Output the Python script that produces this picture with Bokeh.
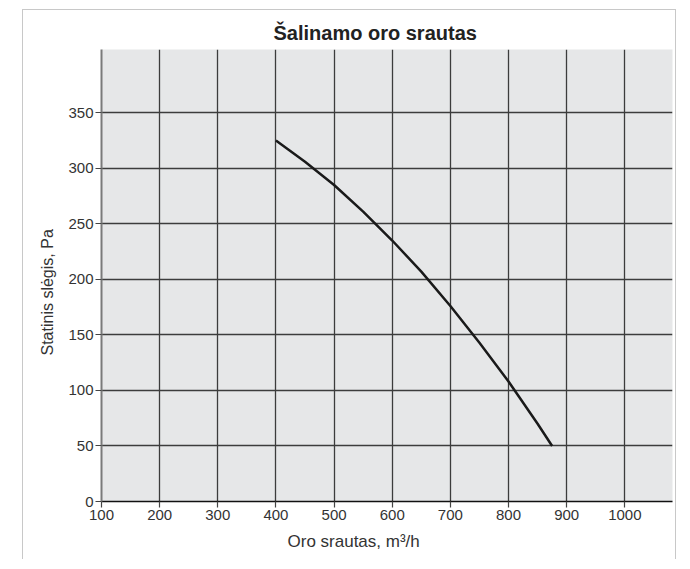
from bokeh.plotting import figure
from bokeh.models import Range1d, FixedTicker, Title
from bokeh.embed import file_html
from bokeh.resources import INLINE

# data
flow = [400, 450, 500, 550, 600, 650, 700, 750, 800, 850, 875]
pressure = [325, 306, 285, 261, 235, 207, 176, 143, 108, 70, 50]
x_ticks = [100, 200, 300, 400, 500, 600, 700, 800, 900, 1000]
y_ticks = [0, 50, 100, 150, 200, 250, 300, 350]

title_text = "Šalinamo oro srautas"
x_label = "Oro srautas, m³/h"
y_label = "Statinis slėgis, Pa"

FONT = "Liberation Sans"

p = figure(width=654, height=550, output_backend="svg", toolbar_location=None,
           x_range=Range1d(100, 1082), y_range=Range1d(0, 407),
           min_border_left=78, min_border_right=5, min_border_top=39,
           min_border_bottom=59, title=None)
p.styles = {"margin-left": "22px", "margin-top": "9px",
            "border-top": "1px solid #c8c8c8", "border-left": "1px solid #c8c8c8",
            "border-right": "1px solid #c8c8c8"}

p.background_fill_color = "#e6e7e8"
p.border_fill_color = "white"
p.outline_line_color = None

p.xaxis.ticker = FixedTicker(ticks=x_ticks)
p.yaxis.ticker = FixedTicker(ticks=y_ticks)
p.xgrid.ticker = FixedTicker(ticks=x_ticks[1:])
p.ygrid.ticker = FixedTicker(ticks=y_ticks[1:])
for g in (p.xgrid, p.ygrid):
    g.grid_line_color = "#3c3c3c"
    g.grid_line_width = 1.3

for ax in (p.xaxis, p.yaxis):
    ax.major_tick_out = 6
    ax.major_tick_in = 0
    ax.minor_tick_line_color = None
    ax.major_tick_line_color = "#444444"
    ax.major_tick_line_width = 1.2
    ax.major_label_text_font = FONT
    ax.major_label_text_font_size = "15px"
    ax.major_label_text_color = "#333333"
    ax.major_label_standoff = 2

p.xaxis.axis_line_color = "#111111"
p.xaxis.axis_line_width = 1.5
p.yaxis.axis_line_color = "#7a7a7a"
p.yaxis.axis_line_width = 2

p.line(flow, pressure, line_color="#1a1a1a", line_width=2.5)

p.add_layout(Title(text=title_text, text_font=FONT, text_font_size="20px",
                   text_font_style="bold", text_color="#222222",
                   align="left", offset=172, standoff=12), "above")
p.add_layout(Title(text=x_label, text_font=FONT, text_font_size="17px",
                   text_font_style="normal", text_color="#333333",
                   align="left", offset=186, standoff=14), "below")
p.add_layout(Title(text=y_label, text_font=FONT, text_font_size="16px",
                   text_font_style="normal", text_color="#333333",
                   align="left", offset=146, standoff=20), "left")

open("out.html", "w").write(file_html(p, INLINE))
